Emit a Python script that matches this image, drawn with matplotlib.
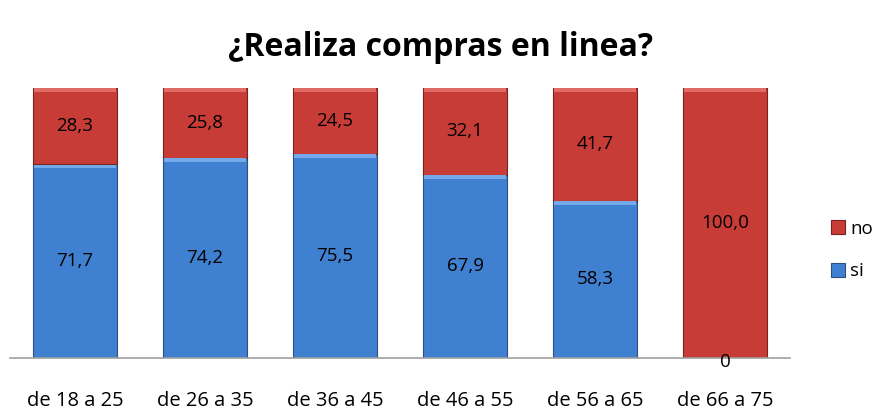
import matplotlib.pyplot as plt
import numpy as np

categories = ["de 18 a 25", "de 26 a 35", "de 36 a 45", "de 46 a 55", "de 56 a 65", "de 66 a 75"]
si = [71.7, 74.2, 75.5, 67.9, 58.3, 0.0]
no = [28.3, 25.8, 24.5, 32.1, 41.7, 100.0]

plt.rcParams["font.family"] = ["Open Sans", "DejaVu Sans"]

fig = plt.figure(figsize=(8.82, 4.16), dpi=100)
ax = fig.add_axes([10 / 882, 58 / 416, 780 / 882, 270 / 416])

x = np.arange(len(categories))
w = 0.65
blue = "#4080D0"
red = "#C83C38"
si_arr = np.array(si)
no_arr = np.array(no)
bs = ax.bar(x, si, w, color=blue, edgecolor="#2A4F80", linewidth=0.8, label="si")
bn = ax.bar(x, no, w, bottom=si, color=red, edgecolor="#7A2220", linewidth=0.8, label="no")
# light bevel strip at the top of each segment
top_si = si_arr > 0
ax.bar(x[top_si], 1.4, w * 0.96, bottom=si_arr[top_si] - 1.5, color="#74AAEA", linewidth=0)
ax.bar(x, 1.4, w * 0.96, bottom=si_arr + no_arr - 1.5, color="#E06A64", linewidth=0)

for i in range(len(categories)):
    if si[i] > 0:
        ax.text(x[i], si[i] / 2, f"{si[i]:.1f}".replace(".", ","),
                ha="center", va="center", fontsize=13.5)
        ax.text(x[i], si[i] + no[i] / 2, f"{no[i]:.1f}".replace(".", ","),
                ha="center", va="center", fontsize=13.5)
    else:
        ax.text(x[i], -1.5, "0", ha="center", va="center", fontsize=13.5)
        ax.text(x[i], 50, f"{no[i]:.1f}".replace(".", ","),
                ha="center", va="center", fontsize=13.5)

ax.set_xlim(-0.5, len(categories) - 0.5)
ax.set_ylim(0, 100)
ax.set_yticks([])
ax.set_xticks(x)
ax.set_xticklabels(categories, fontsize=14.5)
ax.tick_params(axis="x", length=0, pad=24)
for s in ["top", "right", "left"]:
    ax.spines[s].set_visible(False)
ax.spines["bottom"].set_color("#A0A0A0")
ax.spines["bottom"].set_linewidth(1.2)

fig.suptitle("¿Realiza compras en linea?", fontsize=23, fontweight="bold", y=0.925)

handles = [bn, bs]
fig.legend(handles, ["no", "si"], loc="center left", bbox_to_anchor=(818 / 882, 1 - 250 / 416),
           frameon=False, fontsize=13.5, handlelength=0.75, handleheight=0.75,
           handletextpad=0.25, labelspacing=1.3, borderpad=0.2)

fig.savefig("out.png", dpi=100)
